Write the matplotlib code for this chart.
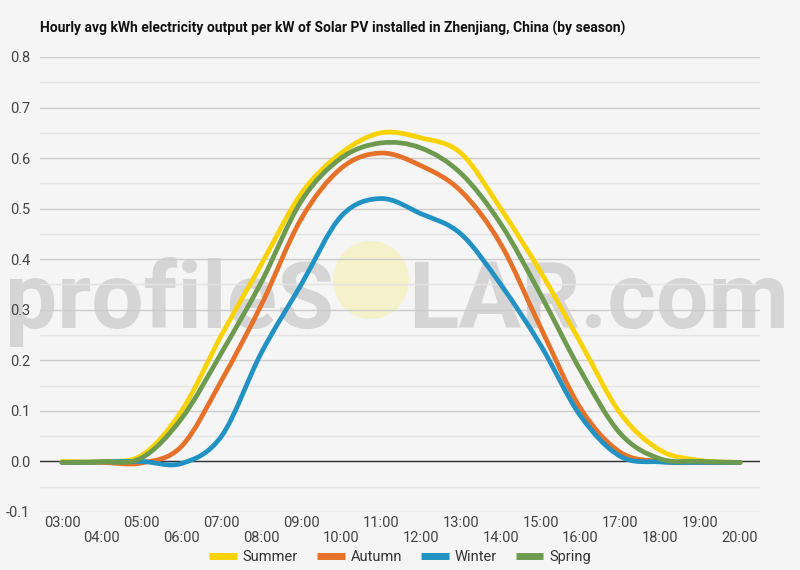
import matplotlib
matplotlib.use("Agg")
import matplotlib.pyplot as plt
import numpy as np
from matplotlib.path import Path
from matplotlib.patches import PathPatch, Ellipse
from matplotlib.lines import Line2D

# hourly averages, 03:00 .. 20:00
hours = list(range(3, 21))
hour_labels = [f"{h:02d}:00" for h in hours]

summer = [0.0, 0.0, 0.012, 0.10, 0.25, 0.39, 0.53, 0.61, 0.65, 0.64, 0.61, 0.50, 0.375, 0.235, 0.095, 0.022, 0.002, -0.002]
autumn = [-0.002, -0.002, -0.003, 0.03, 0.16, 0.31, 0.48, 0.58, 0.61, 0.585, 0.535, 0.43, 0.265, 0.105, 0.018, 0.0, -0.002, -0.002]
winter = [-0.002, -0.001, 0.0, -0.004, 0.05, 0.215, 0.35, 0.485, 0.52, 0.49, 0.45, 0.35, 0.23, 0.09, 0.01, -0.001, -0.002, -0.002]
spring = [-0.002, -0.001, 0.007, 0.085, 0.215, 0.355, 0.515, 0.60, 0.63, 0.62, 0.57, 0.47, 0.33, 0.18, 0.055, 0.005, 0.0, -0.002]

season_names = ["Summer", "Autumn", "Winter", "Spring"]
season_colors = ["#F9D300", "#E5722A", "#2192C2", "#6D9A4F"]

title = "Hourly avg kWh electricity output per kW of Solar PV installed in Zhenjiang, China (by season)"
bg = "#f5f5f5"

plt.rcParams["font.family"] = ["Roboto", "DejaVu Sans"]


def smooth_path(x, y):
    # catmull-rom through the points, drawn as cubic bezier segments
    pts = np.column_stack([x, y]).astype(float)
    ext = np.vstack([pts[0], pts, pts[-1]])
    verts = [pts[0]]
    codes = [Path.MOVETO]
    for i in range(len(pts) - 1):
        p0, p1, p2, p3 = ext[i], ext[i + 1], ext[i + 2], ext[i + 3]
        verts += [p1 + (p2 - p0) / 6, p2 - (p3 - p1) / 6, p2]
        codes += [Path.CURVE4] * 3
    return Path(verts, codes)


fig = plt.figure(figsize=(8, 5.7), dpi=100, facecolor=bg)
ax = fig.add_axes([0.05, 0.1018, 0.90, 0.7982])
ax.set_facecolor(bg)

# grid
ax.set_ylim(-0.1, 0.8)
ax.set_xlim(2.45, 20.5)
yt = np.round(np.arange(-0.1, 0.81, 0.1), 1)
ax.set_yticks(yt)
ax.set_yticklabels([f"{v:.1f}" for v in yt])
ax.set_yticks(np.round(np.arange(-0.05, 0.8, 0.1), 2), minor=True)
ax.grid(axis="y", which="major", color="#cccccc", lw=1)
ax.grid(axis="y", which="minor", color="#e4e4e4", lw=1)
ax.axhline(0, color="#333333", lw=1, zorder=2.6)
for s in ax.spines.values():
    s.set_visible(False)

ax.set_xticks(hours)
ax.set_xticklabels([lab if i % 2 == 0 else "\n" + lab for i, lab in enumerate(hour_labels)])
ax.tick_params(axis="both", which="both", length=0, labelsize=10.5, labelcolor="#444444")
ax.tick_params(axis="x", pad=3)
ax.tick_params(axis="y", pad=7)
for lab in ax.get_xticklabels():
    lab.set_linespacing(1.05)

# watermark
fig.text(334 / 800, 1 - 328 / 570, "profileS", fontsize=67, fontweight="bold", color="#9a9a9a",
         alpha=0.35, ha="right", va="baseline", zorder=2)
fig.text(408 / 800, 1 - 328 / 570, "LAR.com", fontsize=67, fontweight="bold", color="#9a9a9a",
         alpha=0.35, ha="left", va="baseline", zorder=2)
sun = Ellipse((371 / 800, 1 - 280 / 570), 76 / 800, 78 / 570, transform=fig.transFigure,
              facecolor="#f6f0b8", alpha=0.7, edgecolor="none", zorder=2)
fig.patches.append(sun)

# series
for name, vals, col in zip(season_names, [summer, autumn, winter, spring], season_colors):
    patch = PathPatch(smooth_path(hours, vals), fill=False, edgecolor=col, lw=3.4,
                      capstyle="round", joinstyle="round", zorder=3)
    ax.add_patch(patch)

ax.set_zorder(3)
ax.patch.set_alpha(0)
fig.text(40 / 800, 1 - 28 / 570, title, fontsize=10, fontweight="bold", color="#111111",
         ha="left", va="center")

handles = [Line2D([], [], color=c, lw=5, solid_capstyle="butt") for c in season_colors]
fig.legend(handles, season_names, loc="center", bbox_to_anchor=(0.5, 1 - 557 / 570), ncol=4,
           frameon=False, fontsize=10.5, handlelength=1.9, handletextpad=0.4,
           columnspacing=1.3, labelcolor="#333333")

fig.savefig("out.png", dpi=100, facecolor=bg)
